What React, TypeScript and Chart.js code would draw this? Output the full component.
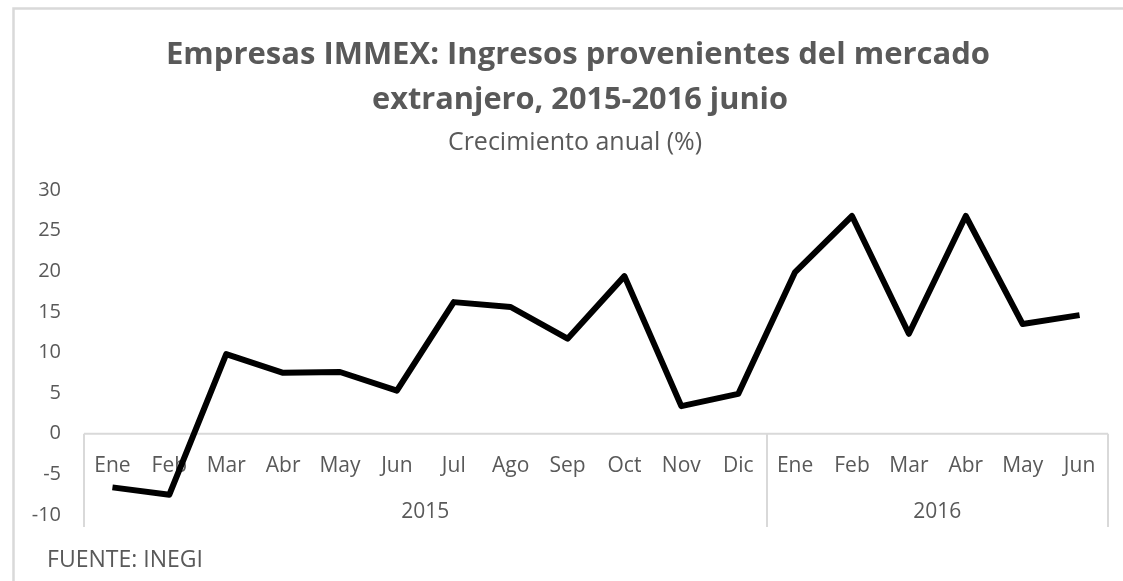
import React, { useEffect, useRef } from "react";
import { Chart, registerables } from "chart.js";

Chart.register(...registerables);

const months = ["Ene", "Feb", "Mar", "Abr", "May", "Jun", "Jul", "Ago", "Sep", "Oct", "Nov", "Dic", "Ene", "Feb", "Mar", "Abr", "May", "Jun"];
const years = ["2015", "2016"];
const yearCounts = [12, 6];
const growth = [-6.6, -7.5, 9.8, 7.5, 7.6, 5.3, 16.2, 15.6, 11.7, 19.4, 3.4, 4.9, 19.9, 26.8, 12.3, 26.8, 13.5, 14.6];
const titleLines = ["Empresas IMMEX: Ingresos provenientes del mercado", "extranjero, 2015-2016 junio"];
const subtitleText = "Crecimiento anual (%)";
const sourceText = "FUENTE: INEGI";

const FONT = "'Open Sans', 'DejaVu Sans', sans-serif";
const GRAY = "#595959";
const LINE = "#d9d9d9";

const decorPlugin = {
  id: "decor",
  beforeDraw(chart: any) {
    const ctx = chart.ctx;
    ctx.save();
    ctx.fillStyle = "#ffffff";
    ctx.fillRect(0, 0, chart.width, chart.height);
    // outer border
    ctx.strokeStyle = LINE;
    ctx.lineWidth = 2.5;
    ctx.beginPath();
    ctx.moveTo(13.5, chart.height);
    ctx.lineTo(13.5, 8.5);
    ctx.lineTo(chart.width, 8.5);
    ctx.stroke();
    // titles
    ctx.fillStyle = GRAY;
    ctx.textAlign = "center";
    ctx.textBaseline = "alphabetic";
    ctx.font = `bold 31px ${FONT}`;
    ctx.fillText(titleLines[0], 578, 64, 830);
    ctx.fillText(titleLines[1], 580, 109, 416);
    ctx.font = `25px ${FONT}`;
    ctx.fillText(subtitleText, 575, 150, 264);
    ctx.textAlign = "left";
    ctx.font = `24px ${FONT}`;
    ctx.fillText(sourceText, 47, 567, 156);
    ctx.restore();
  },
  beforeDatasetsDraw(chart: any) {
    const ctx = chart.ctx;
    const x = chart.scales.x;
    const y = chart.scales.y;
    const y0 = y.getPixelForValue(0);
    const bottom = y.getPixelForValue(-10) + 12;
    ctx.save();
    ctx.strokeStyle = LINE;
    ctx.lineWidth = 2;
    ctx.beginPath();
    ctx.moveTo(x.getPixelForValue(-0.5), y0);
    ctx.lineTo(x.getPixelForValue(months.length - 0.5), y0);
    let start = 0;
    const bounds = [start];
    yearCounts.forEach((c) => {
      start += c;
      bounds.push(start);
    });
    bounds.forEach((b) => {
      const px = Math.round(x.getPixelForValue(b - 0.5));
      ctx.moveTo(px, y0);
      ctx.lineTo(px, bottom);
    });
    ctx.stroke();
    ctx.fillStyle = GRAY;
    ctx.textAlign = "center";
    ctx.textBaseline = "alphabetic";
    ctx.font = `21px ${FONT}`;
    months.forEach((m, i) => {
      ctx.fillText(m, x.getPixelForValue(i), y0 + 38);
    });
    yearCounts.forEach((c, i) => {
      const a = x.getPixelForValue(bounds[i] - 0.5);
      const b = x.getPixelForValue(bounds[i + 1] - 0.5);
      ctx.fillText(years[i], (a + b) / 2, y0 + 84);
    });
    ctx.restore();
  },
};

export default function App() {
  const ref = useRef<HTMLCanvasElement | null>(null);
  useEffect(() => {
    if (!ref.current) return;
    const chart = new Chart(ref.current, {
      type: "line",
      data: {
        labels: months,
        datasets: [
          {
            data: growth,
            borderColor: "#000000",
            borderWidth: 6,
            pointRadius: 0,
            borderJoinStyle: "round",
            borderCapStyle: "butt",
            tension: 0,
            fill: false,
          },
        ],
      },
      options: {
        animation: false,
        responsive: false,
        maintainAspectRatio: false,
        layout: { padding: { top: 190, bottom: 66, left: 0, right: 15 } },
        plugins: {
          legend: { display: false },
          title: { display: false },
          tooltip: { enabled: false },
        },
        scales: {
          x: {
            type: "category",
            display: false,
            offset: true,
          },
          y: {
            min: -10,
            max: 30,
            afterFit: (s: any) => {
              s.width = 84;
            },
            ticks: {
              stepSize: 5,
              color: GRAY,
              padding: 23,
              font: { family: FONT, size: 20 },
            },
            grid: { display: false, drawTicks: false },
            border: { display: false },
          },
        },
      },
      plugins: [decorPlugin],
    });
    return () => chart.destroy();
  }, []);
  return (
    <div style={{ position: "fixed", left: 0, top: 0, width: 1123, height: 581, background: "#fff" }}>
      <canvas ref={ref} width={1123} height={581} style={{ width: 1123, height: 581, display: "block" }} />
    </div>
  );
}
